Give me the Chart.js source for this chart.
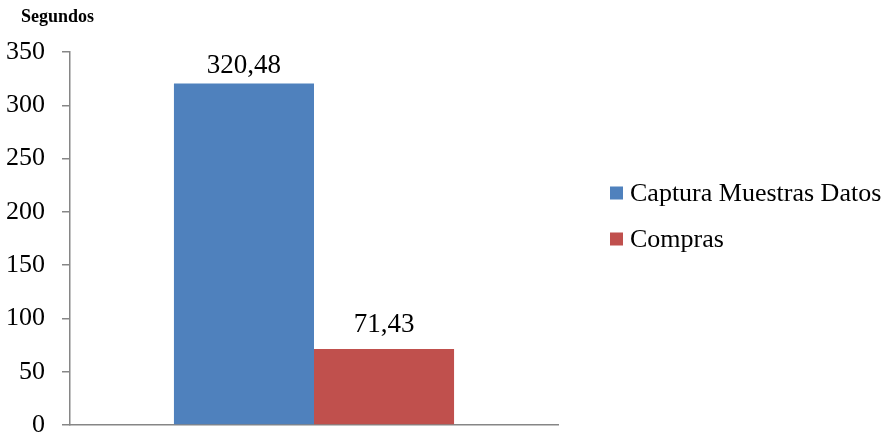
<!DOCTYPE html>
<html>
<head>
<meta charset="utf-8">
<script src="https://cdn.jsdelivr.net/npm/chart.js@4/dist/chart.umd.min.js"></script>
<style>
html,body{margin:0;padding:0;background:#fff;}
#wrap{width:890px;height:434px;position:relative;}
</style>
</head>
<body>
<div id="wrap"><canvas id="c" width="890" height="434"></canvas></div>
<script>
const categories = [""];
const seriesNames = ["Captura Muestras Datos", "Compras"];
const capturaValues = [320.48];
const comprasValues = [71.43];
const seriesColors = ["#4F81BD", "#C0504D"];
const yTicks = [0, 50, 100, 150, 200, 250, 300, 350];
const axisTitle = "Segundos";

const FONT = "'Liberation Serif', 'Times New Roman', serif";
const labelGap = [10, 17];

const overlay = {
  id: 'overlay',
  afterDraw(chart) {
    const ctx = chart.ctx;
    ctx.save();
    // title
    ctx.fillStyle = '#000';
    ctx.font = "bold 18px " + FONT;
    ctx.textAlign = 'left';
    ctx.textBaseline = 'alphabetic';
    ctx.fillText(axisTitle, 21, 22);
    // data labels
    ctx.font = "27px " + FONT;
    ctx.textAlign = 'center';
    chart.data.datasets.forEach((ds, i) => {
      const meta = chart.getDatasetMeta(i);
      meta.data.forEach((bar, j) => {
        const v = ds.data[j];
        const txt = v.toFixed(2).replace('.', ',');
        ctx.fillText(txt, bar.x, bar.y - labelGap[i]);
      });
    });
    // legend
    ctx.font = "26px " + FONT;
    ctx.textAlign = 'left';
    ctx.textBaseline = 'middle';
    chart.data.datasets.forEach((ds, i) => {
      const yMid = 193 + i * 46;
      ctx.fillStyle = ds.backgroundColor;
      ctx.fillRect(610, yMid - 6.5, 13, 13);
      ctx.fillStyle = '#000';
      ctx.fillText(ds.label, 630, yMid + 1);
    });
    ctx.restore();
  }
};

new Chart(document.getElementById('c'), {
  type: 'bar',
  data: {
    labels: categories,
    datasets: [
      { label: seriesNames[0], data: capturaValues, backgroundColor: seriesColors[0] },
      { label: seriesNames[1], data: comprasValues, backgroundColor: seriesColors[1] }
    ]
  },
  options: {
    responsive: false,
    animation: false,
    devicePixelRatio: 1,
    layout: { padding: { left: 0, right: 332, top: 52, bottom: 9 } },
    datasets: { bar: { categoryPercentage: 0.574, barPercentage: 1 } },
    plugins: { legend: { display: false }, title: { display: false }, tooltip: { enabled: false } },
    scales: {
      x: {
        ticks: { display: false },
        grid: { display: false, drawTicks: false },
        border: { display: true, color: '#868686', width: 1.5 },
        afterFit(scale) { scale.height = 0; scale.paddingLeft = 0; scale.paddingRight = 0; scale.paddingTop = 0; scale.paddingBottom = 0; }
      },
      y: {
        min: 0, max: 350,
        afterBuildTicks(scale) { scale.ticks = yTicks.map(v => ({ value: v })); },
        ticks: { color: '#000', font: { family: FONT, size: 26 }, padding: 17 },
        grid: { drawOnChartArea: false, drawTicks: true, tickLength: 8, color: '#868686', lineWidth: 1.5 },
        border: { display: true, color: '#868686', width: 1.5 },
        afterFit(scale) { scale.width = 70; scale.paddingTop = 0; scale.paddingBottom = 0; }
      }
    }
  },
  plugins: [overlay]
});
</script>
</body>
</html>
